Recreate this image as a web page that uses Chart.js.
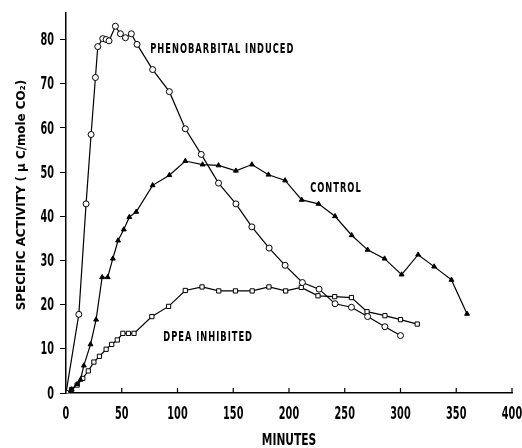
<!DOCTYPE html>
<html>
<head>
<meta charset="utf-8">
<script src="https://cdn.jsdelivr.net/npm/chart.js@4.4.1/dist/chart.umd.min.js"></script>
<style>
  html, body { margin: 0; padding: 0; background: #fff; }
  #wrap { width: 522px; height: 448px; position: relative; }
</style>
</head>
<body>
<div id="wrap"><canvas id="chart"></canvas></div>
<script>
// data: [minutes, specific activity]
const phenobarbital = [
  [0, 0], [11.5, 17.8], [18, 42.8], [22.5, 58.5], [26.4, 71.4], [28.5, 78.4],
  [33, 80.2], [36, 80], [38.6, 79.7], [44.3, 83], [48.8, 81.3], [53.3, 80.4],
  [58.6, 81.3], [63.7, 78.9], [77.7, 73.2], [92.7, 68.2], [107, 59.8],
  [121.3, 54], [136.8, 47.5], [152.4, 42.8], [166.7, 37.6], [182.2, 32.8],
  [196.5, 28.9], [212, 25], [227, 23.5], [241.3, 20.2], [256, 19.4],
  [270.5, 17.3], [286, 15], [300, 13]
]
const control = [
  [0, 0], [5, 0.8], [10, 2], [13, 3], [16, 6.2], [22, 11], [27, 16.6],
  [32.4, 26.2], [37.4, 26.2], [42, 30.4], [46.7, 34.5], [51.8, 37], [56.8, 39.8],
  [63, 41], [77.7, 47], [92.7, 49.3], [107, 52.5], [122.5, 51.7], [136.8, 51.5],
  [152.4, 50.3], [166.7, 51.7], [181.6, 49.4], [196.5, 48.1], [211.4, 43.7],
  [226.5, 42.8], [241.3, 40], [256.2, 35.7], [270.5, 32.4], [285.7, 30.4],
  [301, 26.8], [315.8, 31.3], [330.2, 28.6], [345.7, 25.6], [359.7, 17.9]
]
const dpea = [
  [0, 0], [5, 0.8], [10, 1.8], [15, 3.3], [20, 5], [25, 7], [30, 8.3],
  [36, 9.9], [41, 11], [46, 12], [51, 13.5], [56, 13.5], [61, 13.5],
  [77, 17.3], [92, 19.6], [107, 23.2], [122, 24], [137, 23.1], [152, 23.1],
  [167, 23.1], [182, 24], [197, 23.1], [211, 23.9], [226, 22], [241, 21.8],
  [256, 21.6], [270, 18.4], [286, 17.5], [300, 16.6], [315, 15.6]
]
const xTicks = [0, 50, 100, 150, 200, 250, 300, 350, 400]
const yTicks = [0, 10, 20, 30, 40, 50, 60, 70, 80]
const seriesLabels = ['PHENOBARBITAL INDUCED', 'CONTROL', 'DPEA INHIBITED']
const xTitle = 'MINUTES'
const yTitle = 'SPECIFIC ACTIVITY ( \u03BC C/mole CO\u2082)'

const FONT = '"DejaVu Sans Condensed", "DejaVu Sans", sans-serif'
const toPts = arr => arr.map(([x, y]) => ({ x, y }))

// text labels next to the curves, anchored in data coords
const labelSpots = [
  { text: seriesLabels[0], x: 75.6, y: 77.8 },
  { text: seriesLabels[1], x: 219, y: 46.3 },
  { text: seriesLabels[2], x: 87.3, y: 12.7 }
]

// draw text squeezed horizontally, to get the narrow print look of the scan
function narrowText(ctx, text, px, py, squeeze, align, rot) {
  ctx.save()
  ctx.translate(px, py)
  if (rot) ctx.rotate(rot)
  ctx.scale(squeeze, 1)
  ctx.textAlign = align
  ctx.fillText(text, 0, 0)
  ctx.restore()
}

const annotate = {
  id: 'annotate',
  afterDraw(chart) {
    const { ctx, scales: { x, y } } = chart
    ctx.save()
    // x tick marks point up into the plot
    ctx.strokeStyle = '#000'
    ctx.lineWidth = 1.2
    x.ticks.forEach(t => {
      const px = x.getPixelForValue(t.value)
      ctx.beginPath()
      ctx.moveTo(px, y.bottom)
      ctx.lineTo(px, y.bottom - 5)
      ctx.stroke()
    })
    ctx.fillStyle = '#000'
    ctx.textBaseline = 'middle'
    ctx.font = 'bold 18px ' + FONT
    x.ticks.forEach(t => {
      narrowText(ctx, String(t.value), x.getPixelForValue(t.value), y.bottom + 21, 0.6, 'center')
    })
    y.ticks.forEach(t => {
      narrowText(ctx, String(t.value), x.left - 12, y.getPixelForValue(t.value) + 1, 0.6, 'right')
    })
    // axis titles
    ctx.font = 'bold 16px ' + FONT
    narrowText(ctx, xTitle, (x.left + x.right) / 2, 441, 0.74, 'center')
    ctx.font = 'bold 15px ' + FONT
    ctx.save()
    ctx.translate(22, 195)
    ctx.rotate(-Math.PI / 2)
    ctx.scale(0.88, 0.85)
    ctx.textAlign = 'center'
    ctx.fillText(yTitle, 0, 0)
    ctx.restore()
    // curve labels
    ctx.font = 'bold 14px ' + FONT
    if ('letterSpacing' in ctx) ctx.letterSpacing = '1.5px'
    labelSpots.forEach(l => {
      narrowText(ctx, l.text, x.getPixelForValue(l.x), y.getPixelForValue(l.y), 0.66, 'left')
    })
    ctx.restore()
  }
}

const mk = (label, data, style) => Object.assign({
  label,
  data: toPts(data),
  borderColor: '#000',
  borderWidth: 1.2,
  pointBorderColor: '#000',
  pointBorderWidth: 1,
  pointRadius: 3,
  tension: 0,
  fill: false
}, style)

new Chart(document.getElementById('chart'), {
  type: 'line',
  data: {
    datasets: [
      mk(seriesLabels[0], phenobarbital, { pointStyle: 'circle', pointBackgroundColor: '#fff' }),
      mk(seriesLabels[1], control, { pointStyle: 'triangle', pointBackgroundColor: '#000', pointRadius: 2.8 }),
      mk(seriesLabels[2], dpea, { pointStyle: 'rect', pointBackgroundColor: '#fff', pointRadius: 3 })
    ]
  },
  options: {
    responsive: true,
    maintainAspectRatio: false,
    animation: false,
    layout: { padding: { top: 13, right: 10, left: 0, bottom: 0 } },
    plugins: { legend: { display: false }, tooltip: { enabled: false } },
    scales: {
      x: {
        type: 'linear',
        min: 0,
        max: 400,
        afterBuildTicks: s => { s.ticks = xTicks.map(v => ({ value: v })) },
        afterFit: s => { s.height = 55; s.paddingLeft = 0; s.paddingRight = 0 },
        border: { color: '#000', width: 1.5 },
        grid: { display: true, drawOnChartArea: false, drawTicks: false, color: '#000' },
        ticks: { display: false },
        title: { display: false, text: xTitle }
      },
      y: {
        type: 'linear',
        min: 0,
        max: 86,
        afterBuildTicks: s => { s.ticks = yTicks.map(v => ({ value: v })) },
        afterFit: s => { s.width = 66; s.paddingTop = 0; s.paddingBottom = 0 },
        border: { color: '#000', width: 1.5 },
        grid: { display: true, drawOnChartArea: false, drawTicks: true, tickLength: 6, color: '#000', tickWidth: 1 },
        ticks: { display: false },
        title: { display: false, text: yTitle }
      }
    }
  },
  plugins: [annotate]
})
</script>
</body>
</html>
